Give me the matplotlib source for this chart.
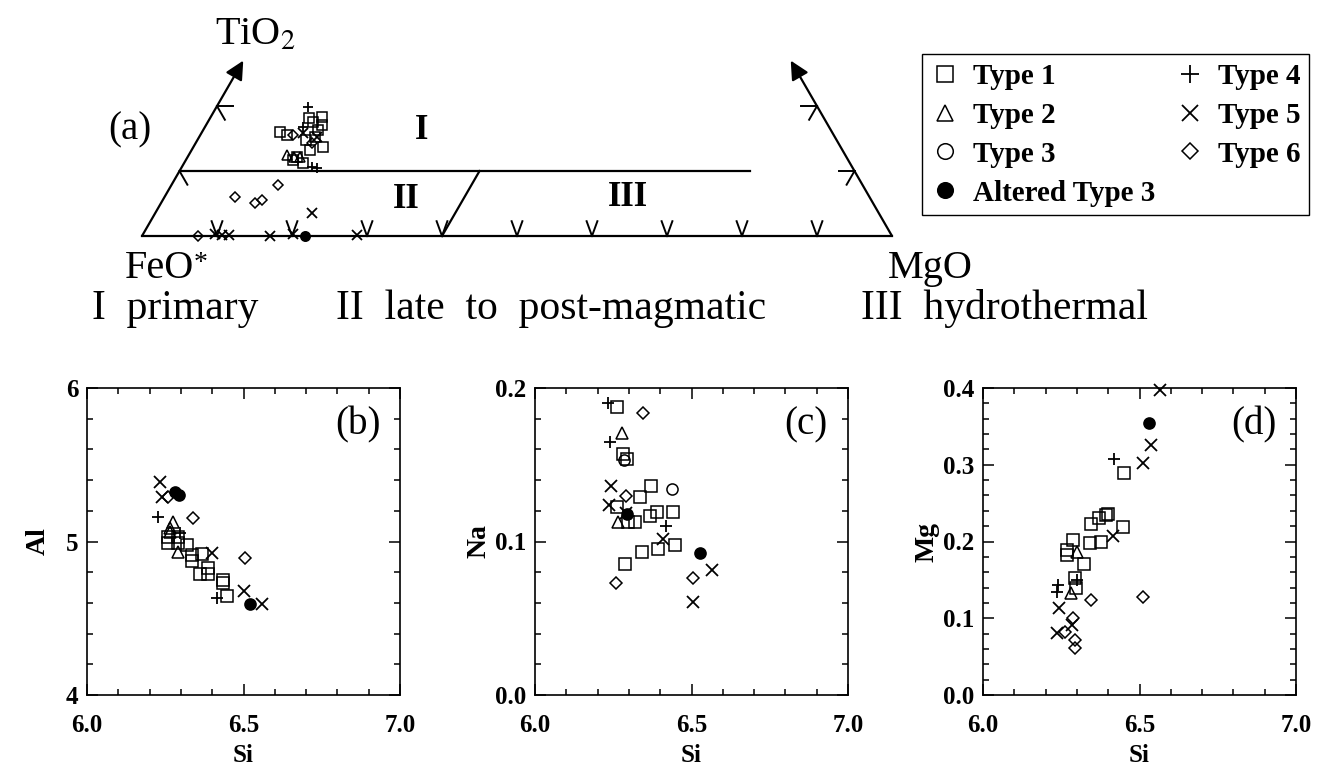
import numpy as np
import matplotlib.pyplot as plt
from matplotlib.lines import Line2D

plt.rcParams['font.family'] = ['Liberation Serif', 'DejaVu Serif']
plt.rcParams['mathtext.fontset'] = 'stix'

# ---------------- ternary (a): TiO2 and MgO fractions (FeO* = rest)
t1_ti = [0.182, 0.183, 0.171, 0.160, 0.155, 0.152, 0.148, 0.137, 0.132, 0.122, 0.112, 0.117, 0.175, 0.163]
t1_mg = [0.131, 0.149, 0.155, 0.104, 0.116, 0.155, 0.144, 0.173, 0.158, 0.146, 0.159, 0.143, 0.140, 0.153]
t2_ti = [0.125, 0.122, 0.122]
t2_mg = [0.131, 0.141, 0.150]
t4_ti = [0.199, 0.168, 0.106, 0.105]
t4_mg = [0.122, 0.131, 0.174, 0.181]
t5_ti = [0.158, 0.152, 0.035, 0.003, 0.002, 0.002, 0.0, 0.003, 0.002]
t5_mg = [0.136, 0.157, 0.209, 0.096, 0.106, 0.115, 0.171, 0.200, 0.286]
t6_ti = [0.155, 0.143, 0.060, 0.051, 0.055, 0.079, 0.0]
t6_mg = [0.124, 0.155, 0.094, 0.125, 0.132, 0.142, 0.075]
alt_ti = [0.0]
alt_mg = [0.217]

# ---------------- (b) Si vs Al
b_si = {
    't1': [6.26, 6.26, 6.29, 6.29, 6.32, 6.335, 6.335, 6.367, 6.36, 6.385, 6.385, 6.435, 6.435, 6.446],
    't2': [6.275, 6.265, 6.265, 6.29],
    't3': [],
    't4': [6.227, 6.297, 6.415],
    't5': [6.233, 6.24, 6.40, 6.50, 6.56],
    't6': [6.26, 6.34, 6.505],
    'alt': [6.28, 6.295, 6.52],
}
b_al = {
    't1': [5.03, 4.99, 5.03, 4.99, 4.98, 4.91, 4.87, 4.92, 4.79, 4.79, 4.83, 4.75, 4.73, 4.645],
    't2': [5.13, 5.09, 5.06, 4.93],
    't3': [],
    't4': [5.16, 5.055, 4.63],
    't5': [5.39, 5.29, 4.925, 4.68, 4.59],
    't6': [5.29, 5.15, 4.89],
    'alt': [5.32, 5.30, 4.59],
}

# ---------------- (c) Si vs Na
c_si = {
    't1': [6.262, 6.281, 6.293, 6.335, 6.37, 6.262, 6.298, 6.32, 6.367, 6.39, 6.44, 6.447, 6.393, 6.342, 6.288],
    't2': [6.278, 6.265],
    't3': [6.285, 6.438],
    't4': [6.233, 6.24, 6.418],
    't5': [6.243, 6.237, 6.29, 6.409, 6.565, 6.505],
    't6': [6.345, 6.29, 6.505, 6.259],
    'alt': [6.527, 6.295],
}
c_na = {
    't1': [0.1876, 0.157, 0.154, 0.129, 0.136, 0.1225, 0.1127, 0.1127, 0.1166, 0.119, 0.119, 0.0977, 0.0951, 0.0932, 0.0853],
    't2': [0.171, 0.1127],
    't3': [0.153, 0.134],
    't4': [0.190, 0.165, 0.110],
    't5': [0.136, 0.124, 0.1185, 0.1016, 0.0814, 0.0606],
    't6': [0.184, 0.1297, 0.0762, 0.073],
    'alt': [0.0925, 0.118],
}

# ---------------- (d) Si vs Mg
d_si = {
    't1': [6.45, 6.393, 6.40, 6.37, 6.345, 6.447, 6.377, 6.342, 6.288, 6.268, 6.268, 6.323, 6.294, 6.297],
    't2': [6.30, 6.28],
    't3': [],
    't4': [6.42, 6.24, 6.236, 6.30],
    't5': [6.565, 6.537, 6.51, 6.415, 6.243, 6.284, 6.236],
    't6': [6.345, 6.51, 6.288, 6.262, 6.294, 6.294],
    'alt': [6.53],
}
d_mg = {
    't1': [0.289, 0.2345, 0.236, 0.231, 0.223, 0.219, 0.199, 0.198, 0.202, 0.189, 0.182, 0.171, 0.152, 0.139],
    't2': [0.186, 0.133],
    't3': [],
    't4': [0.307, 0.143, 0.134, 0.150],
    't5': [0.397, 0.326, 0.302, 0.207, 0.113, 0.091, 0.081],
    't6': [0.124, 0.128, 0.100, 0.082, 0.0717, 0.061],
    'alt': [0.354],
}

legend_labels = {'t1': 'Type 1', 't2': 'Type 2', 't3': 'Type 3', 'alt': 'Altered Type 3',
                 't4': 'Type 4', 't5': 'Type 5', 't6': 'Type 6'}

# marker styles
sty = {
    't1': dict(marker='s', ms=8, mfc='none', mec='k', mew=1.1),
    't2': dict(marker='^', ms=8, mfc='none', mec='k', mew=1.1),
    't3': dict(marker='o', ms=8, mfc='none', mec='k', mew=1.1),
    't4': dict(marker='+', ms=9, mec='k', mew=1.3),
    't5': dict(marker='x', ms=8, mec='k', mew=1.3),
    't6': dict(marker='D', ms=6, mfc='none', mec='k', mew=1.1),
    'alt': dict(marker='o', ms=8, mfc='k', mec='k', mew=1.1),
}

W, H = 1320, 770
fig = plt.figure(figsize=(W / 100, H / 100), dpi=100)


def px_axes(x0, y0, x1, y1):
    return fig.add_axes([x0 / W, 1 - y1 / H, (x1 - x0) / W, (y1 - y0) / H])


# ================= ternary panel
S3 = np.sqrt(3) / 2


def tern(ti, mg):
    ti = np.asarray(ti, float)
    mg = np.asarray(mg, float)
    return mg + ti / 2, ti * S3


axt = px_axes(100, 20, 920, 280)
axt.set_xlim(-42 / 750, 778 / 750)
axt.set_ylim(-44 / 750, 216 / 750)
axt.axis('off')

lw = 1.6
# base line and edges
bx, by = tern([0, 0], [0, 1])
axt.plot(bx, by, color='k', lw=lw)
for corner, tip in [((0, 0), (0.27, 0.0)), ((0, 1), (0.27, 0.73))]:
    cx, cy = tern(*corner)
    tx, ty = tern(*tip)
    axt.annotate('', xy=(float(tx), float(ty)), xytext=(float(cx), float(cy)),
                 arrowprops=dict(arrowstyle='-|>', lw=lw, color='k', mutation_scale=28,
                                 shrinkA=0, shrinkB=0))
# field boundaries
hx, hy = tern([0.1, 0.1], [0.0, 0.76])
axt.plot(hx, hy, color='k', lw=lw)
vx, vy = tern([0.0, 0.1], [0.4, 0.4])
axt.plot(vx, vy, color='k', lw=lw)


def chevron(x, y, ang_in, half=30, L=0.021):
    for a in (ang_in - half, ang_in + half):
        r = np.deg2rad(a)
        axt.plot([x, x + L * np.cos(r)], [y, y + L * np.sin(r)], color='k', lw=1.4)


for m in np.arange(1, 10) / 10:
    x, y = tern(0, m)
    chevron(float(x), float(y), 90, half=20)
for t in (0.1, 0.2):
    x, y = tern(t, 0)
    chevron(float(x), float(y), -30)
    x, y = tern(t, 1 - t)
    chevron(float(x), float(y), 210)

tern_data = {'t1': (t1_ti, t1_mg), 't2': (t2_ti, t2_mg), 't4': (t4_ti, t4_mg),
             't5': (t5_ti, t5_mg), 't6': (t6_ti, t6_mg), 'alt': (alt_ti, alt_mg)}
for k, (ti, mg) in tern_data.items():
    x, y = tern(ti, mg)
    st = dict(sty[k])
    st['ms'] = st['ms'] * 0.85
    axt.plot(x, y, ls='none', clip_on=False, **st)

axt.text(0.151, 0.268, 'TiO$_2$', fontsize=29, ha='center', va='center')
axt.text(0.024, -0.043, 'FeO', fontsize=29, ha='center', va='center')
axt.text(0.078, -0.037, '*', fontsize=20, ha='center', va='center')
axt.text(1.051, -0.043, 'MgO', fontsize=29, ha='center', va='center')
axt.text(-0.016, 0.141, '(a)', fontsize=28, ha='center', va='center')
axt.text(0.373, 0.141, 'I', fontsize=25, fontweight='bold', ha='center', va='center')
axt.text(0.353, 0.049, 'II', fontsize=25, fontweight='bold', ha='center', va='center')
axt.text(0.648, 0.051, 'III', fontsize=25, fontweight='bold', ha='center', va='center')

# legend
order = ['t1', 't2', 't3', 'alt', 't4', 't5', 't6']
handles = [Line2D([], [], ls='none', **dict(sty[k], ms=sty[k]['ms'] * 1.4)) for k in order]
fig.legend(handles, [legend_labels[k] for k in order], ncol=2, loc='upper left',
           bbox_to_anchor=(922 / W, 1 - 54 / H), borderaxespad=0, frameon=True,
           fancybox=False, edgecolor='k', framealpha=1, handlelength=1.0,
           handletextpad=0.45, columnspacing=0.7, labelspacing=0.41, borderpad=0.3,
           prop=dict(family='Liberation Serif', weight='bold', size=21))

# caption line
fig.text(92 / W, 1 - 309 / H, 'I  primary', fontsize=30, va='center')
fig.text(336 / W, 1 - 309 / H, 'II  late  to  post-magmatic', fontsize=30, va='center')
fig.text(861 / W, 1 - 309 / H, 'III  hydrothermal', fontsize=30, va='center')

# ================= scatter panels
panels = [
    (87, b_si, b_al, (4, 6), [4, 5, 6], ['4', '5', '6'], 0.2, 'Al', '(b)', -0.115),
    (535, c_si, c_na, (0, 0.2), [0, 0.1, 0.2], ['0.0', '0.1', '0.2'], 0.02, 'Na', '(c)', -0.14),
    (983, d_si, d_mg, (0, 0.4), [0, 0.1, 0.2, 0.3, 0.4], ['0.0', '0.1', '0.2', '0.3', '0.4'], 0.02, 'Mg', '(d)', -0.14),
]
for x0, sx, sy, ylim, yt, ytl, ymin, ylab, tag, labx in panels:
    ax = px_axes(x0, 388, x0 + 313, 695)
    for k in ['t1', 't2', 't3', 't4', 't5', 't6', 'alt']:
        ax.plot(sx[k], sy[k], ls='none', clip_on=False, **sty[k])
    ax.set_xlim(6.0, 7.0)
    ax.set_ylim(*ylim)
    ax.set_xticks([6.0, 6.5, 7.0])
    ax.set_xticklabels(['6.0', '6.5', '7.0'])
    ax.set_xticks(np.arange(6.0, 7.001, 0.1), minor=True)
    ax.set_yticks(yt)
    ax.set_yticklabels(ytl)
    ax.set_yticks(np.arange(ylim[0], ylim[1] + 1e-9, ymin), minor=True)
    ax.tick_params(which='both', direction='in', top=True, right=True, width=1.1)
    ax.tick_params(which='major', length=8, labelsize=18)
    ax.tick_params(axis='x', which='major', pad=14)
    ax.tick_params(axis='y', which='major', pad=6)
    ax.tick_params(which='minor', length=4)
    for lab in ax.get_xticklabels() + ax.get_yticklabels():
        lab.set_fontweight('bold')
    for sp in ax.spines.values():
        sp.set_linewidth(1.2)
    ax.set_xlabel('Si', fontsize=18, fontweight='bold', labelpad=5)
    ax.set_ylabel(ylab, fontsize=20, fontweight='bold')
    ax.yaxis.set_label_coords(labx, 0.5)
    ax.text(0.865, 0.88, tag, transform=ax.transAxes, fontsize=28,
            ha='center', va='center')

fig.savefig('out.png', dpi=100)
